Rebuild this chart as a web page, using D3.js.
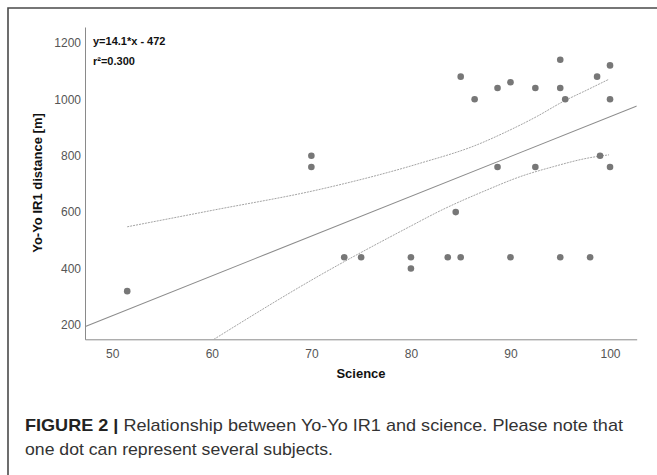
<!DOCTYPE html>
<html>
<head>
<meta charset="utf-8">
<script src="https://cdn.jsdelivr.net/npm/d3@7"></script>
<style>
  body { margin: 0; background: #fff; }
  svg { display: block; font-family: "Liberation Sans", Arial, sans-serif; }
  .tick text { fill: #555; font-size: 12px; }
  .domain { stroke: #8a8a8a; }
</style>
</head>
<body>
<div id="chart"></div>
<script>
// scatter values (science score, Yo-Yo IR1 distance)
const scienceScores = [51.5, 70, 70, 73.3, 75, 80, 80, 83.7, 84.5, 85, 85, 86.4, 88.7, 88.7,
    90, 90, 92.5, 92.5, 95, 95, 95.5, 95, 98, 98.7, 99, 100, 100, 100];
const yoyoDistances = [320, 800, 760, 440, 440, 440, 400, 440, 600, 1080, 440, 1000, 1040, 760,
    1060, 440, 1040, 760, 1140, 1040, 1000, 440, 440, 1080, 800, 1120, 1000, 760];

// fit line end points and confidence band
const fitX = [47.3, 102.7];
const fitY = [195, 976];
const upperX = [51.5, 60, 70.9, 80.9, 86.6, 89.6, 92.6, 95.3, 97.7, 99.9];
const upperY = [548, 606, 681, 773, 838, 885, 938, 992, 1033, 1071];
const lowerX = [60.2, 70.9, 79.9, 82.9, 87.6, 91.0, 94.3, 97.7, 99.9];
const lowerY = [149, 377, 549, 604, 678, 726, 761, 791, 803];

const xTicks = [50, 60, 70, 80, 90, 100];
const yTicks = [200, 400, 600, 800, 1000, 1200];

const equationText = "y=14.1*x - 472";
const rSquaredText = "r\u00b2=0.300";
const xTitle = "Science";
const yTitle = "Yo-Yo IR1 distance [m]";
const captionBold = "FIGURE 2 | ";
const captionLine1 = "Relationship between Yo-Yo IR1 and science. Please note that";
const captionLine2 = "one dot can represent several subjects.";

const width = 657, height = 475;
const margin = { left: 85, top: 27, right: 20.3, bottom: 135.7 };
const plotW = width - margin.left - margin.right;
const plotH = height - margin.top - margin.bottom;

const svg = d3.select("#chart").append("svg")
    .attr("width", width)
    .attr("height", height);

// frame (top and left edges only)
svg.append("path")
    .attr("d", `M8,${height} V8 H${width}`)
    .attr("fill", "none")
    .attr("stroke", "#4a4a4a")
    .attr("stroke-width", 1.6);

const x = d3.scaleLinear().domain([47.26, 102.68]).range([0, plotW]);
const y = d3.scaleLinear().domain([149.3, 1256]).range([plotH, 0]);

const g = svg.append("g").attr("transform", `translate(${margin.left},${margin.top})`);

g.append("clipPath").attr("id", "plotClip")
    .append("rect").attr("width", plotW).attr("height", plotH);

g.append("g")
    .attr("transform", `translate(0,${plotH})`)
    .call(d3.axisBottom(x).tickValues(xTicks).tickSize(0).tickPadding(10).tickFormat(d3.format("d")));

g.append("g")
    .call(d3.axisLeft(y).tickValues(yTicks).tickSize(0).tickPadding(4).tickFormat(d3.format("d")));

const line = d3.line().x(d => x(d[0])).y(d => y(d[1]));
const smooth = d3.line().x(d => x(d[0])).y(d => y(d[1])).curve(d3.curveMonotoneX);

const lines = g.append("g").attr("clip-path", "url(#plotClip)");

lines.append("path")
    .attr("d", line(d3.zip(fitX, fitY)))
    .attr("fill", "none")
    .attr("stroke", "#8c8c8c")
    .attr("stroke-width", 1.1);

[[upperX, upperY], [lowerX, lowerY]].forEach(([xs, ys]) => {
    lines.append("path")
        .attr("d", smooth(d3.zip(xs, ys)))
        .attr("fill", "none")
        .attr("stroke", "#9a9a9a")
        .attr("stroke-width", 0.9)
        .attr("stroke-dasharray", "2,1");
});

g.append("g").selectAll("circle")
    .data(d3.zip(scienceScores, yoyoDistances))
    .enter().append("circle")
    .attr("cx", d => x(d[0]))
    .attr("cy", d => y(d[1]))
    .attr("r", 3.3)
    .attr("fill", "#777");

// regression annotation
svg.append("text")
    .attr("x", 93).attr("y", 44.5)
    .attr("font-size", 11).attr("font-weight", "bold").attr("fill", "#111")
    .text(equationText);
svg.append("text")
    .attr("x", 93).attr("y", 65)
    .attr("font-size", 11).attr("font-weight", "bold").attr("fill", "#111")
    .text(rSquaredText);

// axis titles
svg.append("text")
    .attr("x", 361).attr("y", 378)
    .attr("text-anchor", "middle")
    .attr("font-size", 13).attr("font-weight", "bold").attr("fill", "#111")
    .text(xTitle);
svg.append("text")
    .attr("transform", "translate(41.5,183) rotate(-90)")
    .attr("text-anchor", "middle")
    .attr("font-size", 13).attr("font-weight", "bold").attr("fill", "#111")
    .text(yTitle);

// caption
const cap = svg.append("text")
    .attr("x", 25).attr("y", 431)
    .attr("font-size", 17).attr("fill", "#333")
    .attr("textLength", 598).attr("lengthAdjust", "spacingAndGlyphs");
cap.append("tspan").attr("font-weight", "bold").attr("fill", "#222").text(captionBold);
cap.append("tspan").text(captionLine1);

svg.append("text")
    .attr("x", 25).attr("y", 455)
    .attr("font-size", 17).attr("fill", "#333")
    .attr("textLength", 308).attr("lengthAdjust", "spacingAndGlyphs")
    .text(captionLine2);
</script>
</body>
</html>
